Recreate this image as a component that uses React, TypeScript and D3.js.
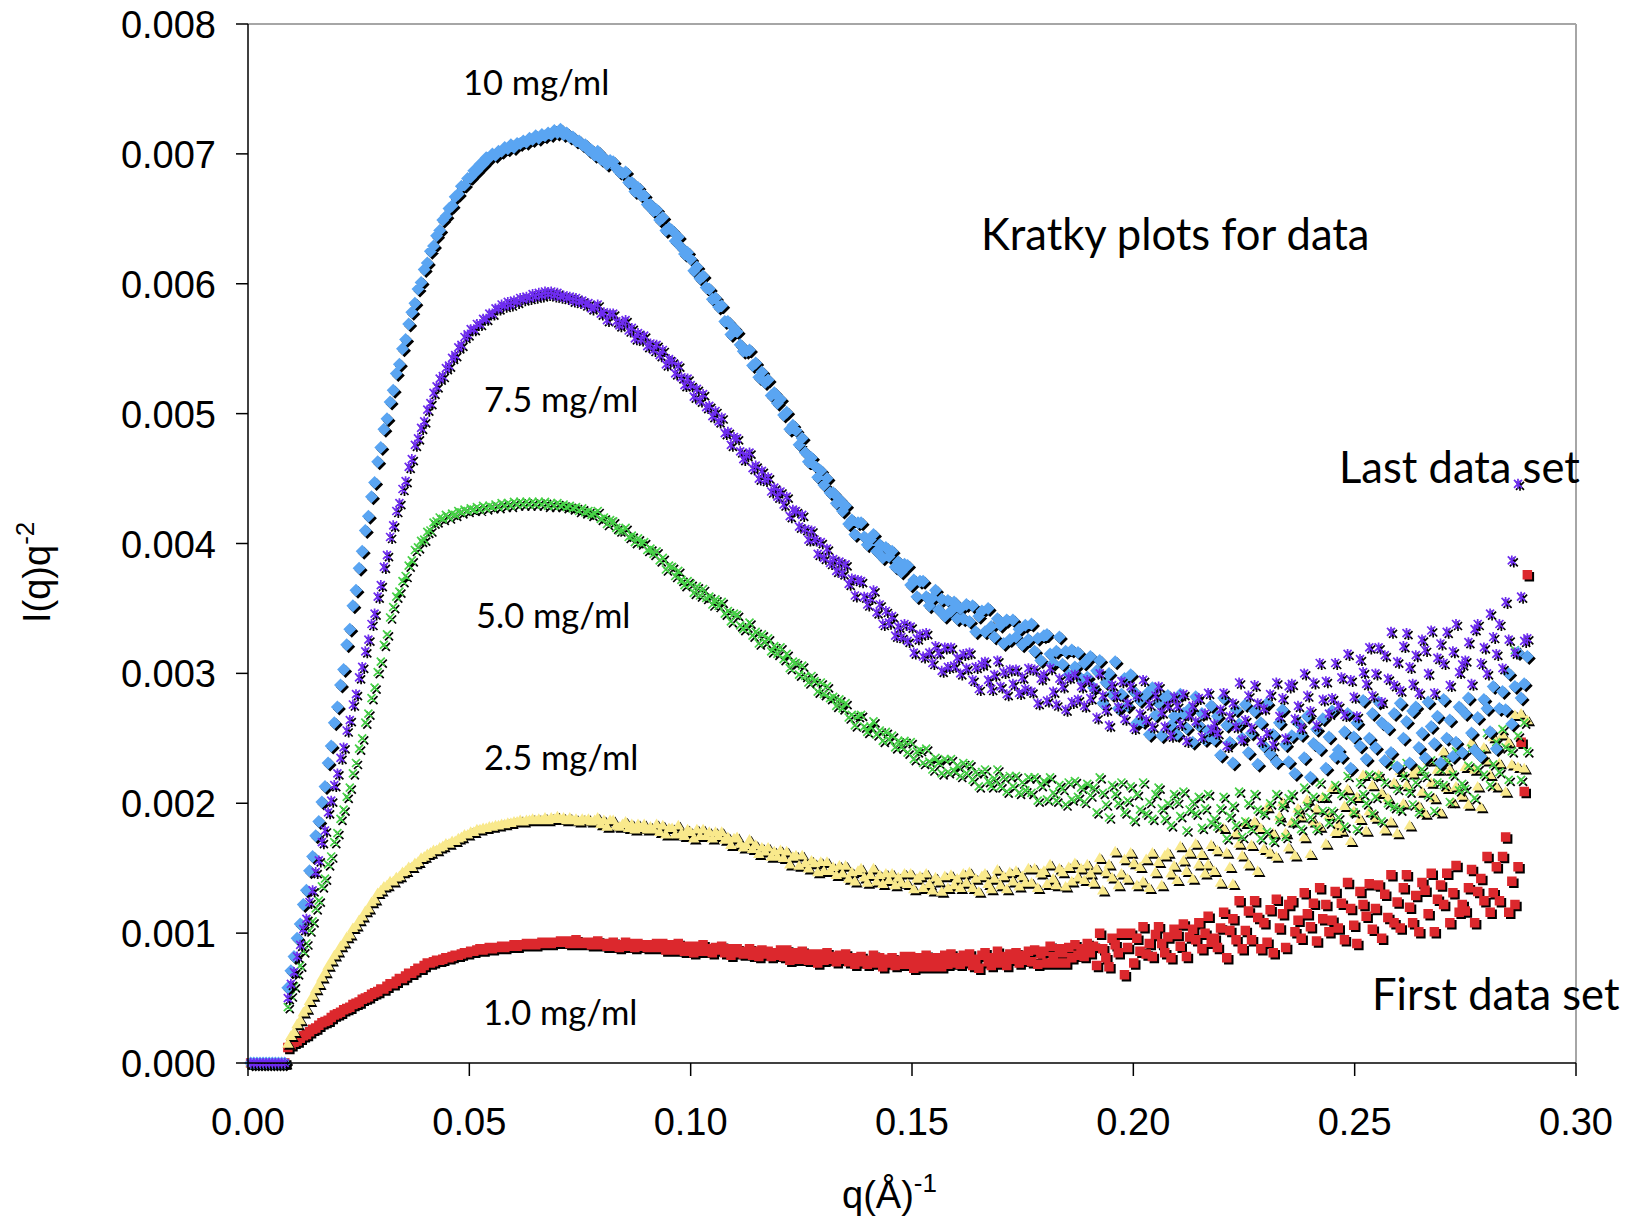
import React from 'react';
import * as d3 from 'd3';

// q values in units of 1e-4 Å^-1
const qGrid = [
  6, 13, 20, 27, 34, 41, 48, 55, 62, 69,
  76, 83, 90, 97, 104, 111, 118, 125, 132, 139,
  146, 153, 160, 167, 174, 181, 188, 195, 202, 209,
  216, 223, 230, 237, 244, 251, 258, 265, 272, 279,
  286, 293, 300, 307, 314, 321, 328, 335, 342, 349,
  356, 363, 370, 377, 384, 391, 398, 405, 412, 419,
  426, 433, 440, 447, 454, 461, 468, 475, 482, 489,
  496, 503, 510, 517, 524, 531, 538, 545, 552, 559,
  566, 573, 580, 587, 594, 601, 608, 615, 622, 629,
  636, 643, 650, 657, 664, 671, 678, 685, 692, 699,
  706, 713, 720, 727, 734, 741, 748, 755, 762, 769,
  776, 783, 790, 797, 804, 811, 818, 825, 832, 839,
  846, 853, 860, 867, 874, 881, 888, 895, 902, 909,
  916, 923, 930, 937, 944, 951, 958, 965, 972, 979,
  986, 993, 1000, 1007, 1014, 1021, 1028, 1035, 1042, 1049,
  1056, 1063, 1070, 1077, 1084, 1091, 1098, 1105, 1112, 1119,
  1126, 1133, 1140, 1147, 1154, 1161, 1168, 1175, 1182, 1189,
  1196, 1203, 1210, 1217, 1224, 1231, 1238, 1245, 1252, 1259,
  1266, 1273, 1280, 1287, 1294, 1301, 1308, 1315, 1322, 1329,
  1336, 1343, 1350, 1357, 1364, 1371, 1378, 1385, 1392, 1399,
  1406, 1413, 1420, 1427, 1434, 1441, 1448, 1455, 1462, 1469,
  1476, 1483, 1490, 1497, 1504, 1511, 1518, 1525, 1532, 1539,
  1546, 1553, 1560, 1567, 1574, 1581, 1588, 1595, 1602, 1609,
  1616, 1623, 1630, 1637, 1644, 1651, 1658, 1665, 1672, 1679,
  1686, 1693, 1700, 1707, 1714, 1721, 1728, 1735, 1742, 1749,
  1756, 1763, 1770, 1777, 1784, 1791, 1798, 1805, 1812, 1819,
  1826, 1833, 1840, 1847, 1854, 1861, 1868, 1875, 1882, 1889,
  1896, 1903, 1910, 1917, 1924, 1931, 1938, 1945, 1952, 1959,
  1966, 1973, 1980, 1987, 1994, 2001, 2008, 2015, 2022, 2029,
  2036, 2043, 2050, 2057, 2064, 2071, 2078, 2085, 2092, 2099,
  2106, 2113, 2120, 2127, 2134, 2141, 2148, 2155, 2162, 2169,
  2176, 2183, 2190, 2197, 2204, 2211, 2218, 2225, 2232, 2239,
  2246, 2253, 2260, 2267, 2274, 2281, 2288, 2295, 2302, 2309,
  2316, 2323, 2330, 2337, 2344, 2351, 2358, 2365, 2372, 2379,
  2386, 2393, 2400, 2407, 2414, 2421, 2428, 2435, 2442, 2449,
  2456, 2463, 2470, 2477, 2484, 2491, 2498, 2505, 2512, 2519,
  2526, 2533, 2540, 2547, 2554, 2561, 2568, 2575, 2582, 2589,
  2596, 2603, 2610, 2617, 2624, 2631, 2638, 2645, 2652, 2659,
  2666, 2673, 2680, 2687, 2694, 2701, 2708, 2715, 2722, 2729,
  2736, 2743, 2750, 2757, 2764, 2771, 2778, 2785, 2792, 2799,
  2806, 2813, 2820, 2827, 2834, 2841, 2848, 2855, 2862, 2869,
  2876, 2883, 2890,
];

// I(q)q^2 values in units of 1e-5
const conc10 = [
  0, 0, 0, 0, 0, 0, 0, 0, 0, 0, 0, 0,
  58, 71, 82, 96, 107, 122, 133, 148, 159, 175, 186, 201, 213, 231, 244, 262, 274, 291, 303, 322,
  334, 352, 364, 381, 394, 410, 421, 436, 447, 463, 474, 488, 496, 509, 518, 531, 538, 550, 557, 569,
  578, 585, 596, 601, 611, 616, 625, 629, 637, 641, 649, 652, 658, 660, 667, 669, 675, 676, 681, 682,
  687, 687, 692, 692, 697, 697, 700, 699, 702, 702, 705, 704, 707, 705, 708, 708, 710, 709, 712, 711,
  714, 712, 715, 714, 716, 715, 718, 716, 719, 715, 716, 713, 713, 710, 710, 707, 707, 703, 703, 699,
  702, 696, 697, 692, 695, 694, 689, 686, 685, 686, 678, 678, 671, 674, 668, 668, 661, 661, 656, 657,
  649, 651, 641, 643, 641, 633, 636, 628, 623, 624, 619, 610, 613, 604, 606, 597, 596, 588, 589, 582,
  583, 571, 571, 561, 566, 563, 553, 548, 548, 549, 537, 539, 528, 532, 524, 526, 514, 516, 508, 511,
  499, 501, 488, 491, 487, 476, 481, 470, 463, 466, 460, 451, 456, 445, 450, 439, 439, 431, 434, 425,
  429, 415, 418, 407, 416, 416, 405, 399, 403, 407, 394, 399, 389, 397, 390, 394, 382, 386, 378, 384,
  383, 368, 372, 359, 371, 371, 359, 352, 358, 364, 349, 357, 344, 356, 348, 355, 342, 350, 342, 353,
  340, 352, 332, 344, 348, 332, 350, 336, 328, 342, 337, 323, 341, 326, 341, 328, 334, 322, 337, 326,
  338, 317, 327, 310, 329, 330, 315, 308, 317, 328, 307, 317, 299, 318, 305, 316, 296, 308, 297, 313,
  289, 302, 310, 277, 293, 300, 284, 309, 273, 284, 296, 275, 299, 286, 262, 279, 263, 284, 253, 289,
  268, 277, 252, 282, 283, 260, 267, 253, 284, 269, 258, 273, 247, 282, 260, 269, 249, 256, 275, 249,
  267, 237, 281, 260, 247, 231, 272, 261, 250, 276, 239, 254, 271, 230, 262, 244, 277, 238, 253, 232,
  262, 272, 245, 232, 252, 223, 262, 253, 235, 267, 220, 246, 257, 242, 265, 227, 251, 271, 236, 241,
  236, 255, 269, 227, 251, 262, 244, 279, 234, 250, 269, 243, 278, 262, 233, 258, 239, 269, 228, 277,
  250, 263, 231, 271, 274, 243, 254, 235, 278, 259, 246, 267, 231, 280, 250, 264, 236, 247, 274, 239,
  269, 281, 254, 241, 266, 236, 280, 273, 255, 290, 242, 273, 286, 272, 300, 261, 290, 316, 281, 292, 313,
];

const conc75 = [
  0, 0, 0, 0, 0, 0, 0, 0, 0, 0, 0, 0,
  50, 61, 70, 82, 91, 103, 111, 124, 133, 147, 156, 170, 179, 193, 202, 214, 223, 235, 243, 256,
  264, 276, 284, 297, 305, 317, 326, 338, 346, 359, 368, 382, 391, 405, 414, 425, 431, 442, 448, 459,
  465, 476, 481, 489, 494, 503, 508, 516, 521, 527, 529, 535, 537, 543, 545, 551, 553, 559, 561, 565,
  565, 569, 569, 573, 573, 577, 577, 581, 581, 584, 583, 586, 584, 587, 586, 589, 588, 590, 589, 592,
  590, 593, 591, 594, 592, 594, 591, 593, 590, 591, 589, 590, 587, 589, 586, 587, 584, 585, 581, 582,
  584, 577, 578, 572, 577, 577, 571, 568, 570, 572, 564, 566, 558, 562, 557, 560, 552, 554, 549, 553,
  545, 549, 538, 542, 540, 531, 537, 528, 522, 527, 522, 513, 519, 510, 515, 505, 506, 498, 502, 494,
  497, 485, 486, 476, 482, 481, 471, 465, 468, 470, 458, 460, 450, 456, 449, 451, 440, 443, 436, 440,
  430, 436, 421, 426, 425, 413, 422, 411, 403, 410, 403, 392, 401, 389, 396, 385, 388, 379, 386, 377,
  384, 369, 373, 360, 372, 371, 359, 353, 358, 364, 347, 353, 338, 348, 339, 344, 329, 336, 328, 338,
  325, 336, 316, 327, 330, 313, 331, 316, 308, 321, 316, 302, 320, 305, 320, 306, 312, 300, 315, 304,
  316, 295, 305, 288, 307, 309, 295, 288, 299, 310, 290, 301, 284, 303, 292, 303, 285, 297, 288, 304,
  286, 303, 277, 296, 299, 279, 304, 286, 276, 296, 290, 272, 297, 278, 299, 280, 290, 275, 295, 281,
  289, 266, 300, 283, 272, 260, 291, 283, 274, 294, 265, 277, 290, 258, 283, 269, 295, 264, 276, 259,
  283, 290, 270, 259, 275, 252, 282, 275, 261, 284, 248, 268, 275, 263, 281, 251, 269, 285, 257, 261,
  254, 272, 285, 244, 267, 277, 259, 293, 249, 264, 283, 258, 291, 277, 248, 273, 254, 284, 245, 293,
  267, 281, 250, 290, 292, 265, 275, 258, 300, 283, 271, 293, 260, 308, 280, 294, 269, 281, 308, 275,
  297, 268, 315, 295, 282, 267, 311, 301, 292, 320, 283, 300, 320, 278, 314, 296, 332, 291, 309, 287,
  321, 331, 305, 292, 314, 285, 326, 318, 300, 333, 285, 312, 323, 308, 332, 291, 317, 338, 301, 307,
  310, 324, 292, 334, 338, 308, 320, 300, 346, 328, 315, 338, 304, 355, 326, 387, 316, 446, 359, 325, 327,
];

const conc50 = [
  0, 0, 0, 0, 0, 0, 0, 0, 0, 0, 0, 0,
  43, 52, 59, 69, 75, 86, 92, 102, 109, 119, 125, 136, 142, 153, 159, 170, 177, 188, 195, 205,
  212, 223, 231, 242, 250, 262, 269, 281, 289, 301, 309, 322, 330, 343, 351, 359, 363, 371, 375, 383,
  387, 395, 397, 402, 403, 409, 410, 416, 417, 420, 419, 422, 420, 423, 422, 425, 424, 426, 425, 427,
  426, 428, 426, 429, 427, 429, 428, 430, 428, 431, 429, 431, 429, 432, 430, 432, 430, 432, 430, 432,
  430, 432, 430, 432, 429, 431, 429, 431, 429, 430, 428, 429, 427, 428, 425, 427, 424, 425, 422, 423,
  425, 419, 420, 415, 418, 417, 412, 410, 410, 412, 405, 406, 401, 404, 400, 401, 395, 396, 392, 394,
  387, 389, 380, 383, 382, 375, 379, 372, 368, 371, 369, 362, 367, 360, 365, 358, 359, 353, 357, 352,
  355, 346, 348, 340, 346, 345, 337, 334, 336, 339, 329, 332, 323, 330, 324, 327, 317, 321, 315, 320,
  311, 315, 304, 309, 308, 299, 306, 298, 293, 298, 294, 286, 293, 284, 290, 281, 282, 275, 280, 273,
  277, 266, 268, 260, 267, 268, 259, 255, 259, 263, 253, 256, 248, 255, 249, 252, 243, 248, 243, 248,
  239, 247, 234, 240, 241, 231, 242, 232, 226, 235, 231, 223, 234, 224, 234, 225, 229, 221, 231, 223,
  230, 218, 224, 213, 224, 226, 217, 213, 219, 226, 213, 220, 209, 221, 213, 221, 208, 216, 210, 220,
  208, 220, 202, 214, 217, 203, 220, 208, 202, 214, 211, 199, 216, 203, 217, 205, 212, 201, 215, 206,
  212, 193, 220, 208, 199, 189, 214, 207, 200, 216, 193, 202, 213, 187, 207, 195, 216, 192, 201, 188,
  207, 212, 196, 188, 200, 183, 207, 201, 190, 209, 179, 195, 201, 192, 205, 181, 196, 207, 185, 188,
  182, 196, 205, 173, 190, 198, 183, 209, 174, 186, 200, 180, 207, 195, 173, 192, 178, 200, 171, 207,
  187, 198, 174, 204, 207, 185, 193, 180, 212, 198, 189, 205, 180, 216, 194, 205, 185, 194, 214, 189,
  207, 182, 221, 203, 193, 180, 216, 207, 200, 222, 192, 205, 221, 186, 216, 200, 230, 197, 211, 195,
  221, 231, 209, 199, 216, 193, 226, 221, 206, 233, 194, 216, 226, 214, 233, 201, 222, 240, 210, 215,
  211, 229, 242, 204, 227, 238, 222, 254, 214, 230, 247, 224, 257, 243, 218, 240, 318, 252, 218, 262, 240,
];

const conc25 = [
  0, 0, 0, 0, 0, 0, 0, 0, 0, 0, 0, 0,
  15, 21, 24, 30, 33, 39, 42, 48, 52, 57, 61, 66, 70, 75, 79, 83, 86, 90, 93, 97,
  99, 104, 106, 110, 113, 117, 119, 124, 126, 131, 133, 136, 137, 140, 140, 143, 144, 147, 148, 151,
  151, 154, 155, 158, 159, 161, 162, 164, 164, 166, 167, 169, 169, 171, 171, 173, 174, 176, 176, 178,
  178, 180, 180, 181, 181, 182, 182, 183, 183, 184, 184, 185, 185, 186, 186, 187, 186, 187, 187, 188,
  187, 188, 187, 189, 187, 189, 188, 190, 188, 189, 187, 189, 187, 188, 186, 188, 187, 188, 186, 187,
  189, 184, 187, 182, 187, 187, 183, 182, 184, 186, 181, 184, 180, 184, 181, 184, 180, 182, 180, 184,
  178, 183, 176, 181, 181, 176, 183, 177, 175, 180, 178, 173, 180, 175, 180, 175, 178, 173, 178, 175,
  178, 172, 174, 168, 173, 174, 169, 166, 168, 172, 165, 168, 161, 166, 163, 166, 159, 163, 159, 164,
  158, 163, 153, 159, 160, 152, 160, 154, 150, 156, 154, 147, 155, 148, 155, 148, 151, 145, 152, 146,
  152, 142, 147, 140, 148, 150, 143, 139, 145, 150, 140, 145, 138, 146, 141, 146, 137, 143, 139, 146,
  138, 146, 134, 142, 144, 135, 146, 138, 133, 143, 140, 132, 144, 135, 145, 137, 142, 135, 146, 139,
  147, 135, 142, 132, 144, 146, 138, 134, 142, 149, 137, 144, 134, 147, 140, 148, 136, 144, 139, 150,
  139, 150, 135, 146, 148, 138, 153, 142, 137, 150, 147, 136, 151, 140, 154, 143, 150, 141, 153, 146,
  139, 150, 158, 133, 147, 153, 143, 163, 137, 146, 157, 142, 162, 154, 137, 151, 140, 157, 135, 162,
  147, 155, 137, 160, 162, 146, 152, 141, 167, 156, 148, 162, 142, 169, 153, 161, 146, 153, 168, 148,
  164, 139, 181, 162, 151, 138, 177, 169, 160, 185, 153, 168, 186, 148, 181, 165, 197, 162, 177, 159,
  190, 201, 177, 166, 186, 160, 196, 190, 174, 203, 161, 186, 196, 182, 205, 169, 191, 212, 178, 184,
  179, 198, 211, 171, 194, 205, 188, 222, 179, 194, 214, 189, 222, 208, 180, 204, 186, 216, 177, 225,
  200, 214, 183, 223, 226, 198, 209, 192, 233, 216, 204, 226, 193, 240, 212, 226, 201, 213, 239, 206,
  228, 199, 247, 226, 213, 197, 243, 233, 222, 251, 213, 231, 253, 209, 247, 230, 268, 228, 269, 227, 264,
];

const conc1 = [
  0, 0, 0, 0, 0, 0, 0, 0, 0, 0, 0, 0,
  12, 14, 16, 17, 19, 21, 22, 24, 26, 27, 29, 31, 32, 33, 35, 37, 38, 39, 41, 42,
  43, 45, 46, 47, 49, 50, 51, 53, 54, 55, 57, 57, 59, 61, 61, 63, 65, 65, 67, 69,
  69, 71, 73, 73, 75, 77, 77, 78, 79, 79, 80, 81, 81, 82, 83, 83, 84, 85, 85, 86,
  86, 87, 88, 87, 88, 89, 88, 89, 89, 90, 89, 90, 90, 91, 90, 91, 91, 92, 91, 92,
  91, 92, 93, 92, 93, 92, 93, 93, 94, 93, 94, 92, 93, 95, 92, 93, 92, 93, 91, 93,
  94, 91, 92, 90, 92, 93, 90, 89, 91, 93, 90, 92, 89, 92, 90, 91, 89, 91, 89, 92,
  89, 92, 87, 90, 91, 87, 92, 88, 86, 90, 89, 85, 90, 86, 91, 86, 88, 85, 89, 87,
  90, 85, 88, 83, 88, 88, 85, 84, 86, 88, 83, 86, 82, 87, 84, 86, 82, 85, 83, 87,
  82, 87, 79, 84, 85, 80, 86, 81, 79, 84, 83, 77, 84, 79, 85, 80, 82, 78, 83, 80,
  84, 78, 81, 76, 81, 82, 78, 76, 79, 83, 77, 81, 74, 80, 77, 81, 75, 79, 76, 82,
  76, 82, 73, 80, 81, 74, 83, 77, 74, 81, 79, 74, 83, 76, 84, 77, 81, 76, 83, 78,
  84, 75, 80, 73, 83, 85, 78, 75, 81, 86, 77, 82, 75, 84, 80, 85, 77, 83, 79, 86,
  78, 87, 76, 84, 86, 77, 90, 82, 77, 88, 85, 77, 89, 81, 91, 83, 88, 82, 92, 85,
  90, 75, 100, 88, 81, 74, 96, 91, 85, 100, 68, 89, 100, 77, 96, 86, 105, 84, 92, 82,
  99, 105, 92, 85, 97, 81, 103, 99, 90, 107, 82, 97, 103, 95, 108, 88, 100, 113, 93, 96,
  89, 104, 116, 81, 102, 111, 95, 125, 88, 102, 117, 95, 125, 112, 88, 108, 93, 118, 85, 126,
  104, 115, 89, 122, 125, 101, 110, 96, 131, 115, 105, 123, 94, 135, 111, 122, 101, 110, 132, 104,
  123, 95, 139, 119, 106, 92, 132, 122, 113, 138, 103, 119, 137, 96, 130, 112, 145, 108, 124, 104,
  135, 145, 120, 108, 129, 101, 139, 133, 115, 146, 101, 126, 137, 122, 146, 108, 131, 152, 116, 122,
  117, 135, 149, 108, 132, 142, 125, 159, 116, 131, 151, 125, 159, 174, 116, 140, 122, 151, 247, 209, 376,
];

const xTicks = [0, 0.05, 0.1, 0.15, 0.2, 0.25, 0.3];
const xTickLabels = ['0.00', '0.05', '0.10', '0.15', '0.20', '0.25', '0.30'];
const yTicks = [0, 0.001, 0.002, 0.003, 0.004, 0.005, 0.006, 0.007, 0.008];
const yTickLabels = ['0.000', '0.001', '0.002', '0.003', '0.004', '0.005', '0.006', '0.007', '0.008'];

type Shape = 'square' | 'triangle' | 'x' | 'diamond' | 'star';

// draw order: first data set first, last data set on top
const series: { name: string; values: number[]; color: string; shape: Shape }[] = [
  { name: '1.0 mg/ml', values: conc1, color: '#dc282d', shape: 'square' },
  { name: '2.5 mg/ml', values: conc25, color: '#f9e98c', shape: 'triangle' },
  { name: '5.0 mg/ml', values: conc50, color: '#46d246', shape: 'x' },
  { name: '10 mg/ml', values: conc10, color: '#5aa5f2', shape: 'diamond' },
  { name: '7.5 mg/ml', values: conc75, color: '#6e2cf0', shape: 'star' },
];

const markerPath = (shape: Shape, cx: number, cy: number): string => {
  const f = (n: number) => n.toFixed(1);
  switch (shape) {
    case 'square':
      return `M${f(cx - 4.75)},${f(cy - 4.75)}h9.5v9.5h-9.5Z`;
    case 'triangle':
      return `M${f(cx)},${f(cy - 5.5)}L${f(cx + 5.8)},${f(cy + 4.2)}L${f(cx - 5.8)},${f(cy + 4.2)}Z`;
    case 'diamond':
      return `M${f(cx)},${f(cy - 6.5)}L${f(cx + 6.5)},${f(cy)}L${f(cx)},${f(cy + 6.5)}L${f(cx - 6.5)},${f(cy)}Z`;
    case 'x':
      return `M${f(cx - 4)},${f(cy - 4)}L${f(cx + 4)},${f(cy + 4)}M${f(cx - 4)},${f(cy + 4)}L${f(cx + 4)},${f(cy - 4)}`;
    case 'star':
    default:
      return `M${f(cx - 4)},${f(cy - 4)}L${f(cx + 4)},${f(cy + 4)}M${f(cx - 4)},${f(cy + 4)}L${f(cx + 4)},${f(cy - 4)}M${f(cx)},${f(cy - 5)}L${f(cx)},${f(cy + 5)}`;
  }
};

const labelFont = "Lato, 'Open Sans', sans-serif";
const axisFont = "'Liberation Sans', Arial, sans-serif";

export default function App() {
  const W = 1628;
  const H = 1230;
  const x = d3.scaleLinear().domain([0, 0.3]).range([248, 1576]);
  const y = d3.scaleLinear().domain([0, 0.008]).range([1063, 24]);

  const paths = series.map((s) => {
    const n = Math.min(qGrid.length, s.values.length);
    let d = '';
    for (let i = 0; i < n; i++) {
      d += markerPath(s.shape, x(qGrid[i] / 1e4), y(s.values[i] / 1e5));
    }
    return d;
  });

  const stroked = (sh: Shape) => sh === 'x' || sh === 'star';

  return (
    <svg
      width={W}
      height={H}
      viewBox={`0 0 ${W} ${H}`}
      style={{ position: 'absolute', left: 0, top: 0, background: '#fff' }}
    >
      <rect x={0} y={0} width={W} height={H} fill="#fff" />
      {/* plot frame */}
      <line x1={x(0)} x2={x(0.3)} y1={y(0.008)} y2={y(0.008)} stroke="#a6a6a6" strokeWidth={2} />
      <line x1={x(0.3)} x2={x(0.3)} y1={y(0.008)} y2={y(0)} stroke="#a6a6a6" strokeWidth={2} />

      {/* data */}
      {series.map((s, i) => (
        <g key={s.name}>
          {stroked(s.shape) ? (
            <>
              <path d={paths[i]} transform="translate(2,2)" fill="none" stroke="#000" strokeWidth={1.7} />
              <path d={paths[i]} fill="none" stroke={s.color} strokeWidth={1.7} />
            </>
          ) : (
            <>
              <path d={paths[i]} transform="translate(2,2)" fill="#000" />
              <path d={paths[i]} fill={s.color} />
            </>
          )}
        </g>
      ))}

      {/* axes */}
      <line x1={x(0)} x2={x(0)} y1={y(0.008)} y2={y(0)} stroke="#000" strokeWidth={1.5} />
      <line x1={x(0)} x2={x(0.3)} y1={y(0)} y2={y(0)} stroke="#000" strokeWidth={1.5} />
      {yTicks.map((t, i) => (
        <g key={'y' + i}>
          <line x1={x(0) - 12} x2={x(0)} y1={y(t)} y2={y(t)} stroke="#000" strokeWidth={1.5} />
          <text
            x={216}
            y={y(t) + 1}
            textAnchor="end"
            dominantBaseline="central"
            fontFamily={axisFont}
            fontSize={38}
            fill="#000"
          >
            {yTickLabels[i]}
          </text>
        </g>
      ))}
      {xTicks.map((t, i) => (
        <g key={'x' + i}>
          <line x1={x(t)} x2={x(t)} y1={y(0)} y2={y(0) + 13} stroke="#000" strokeWidth={1.5} />
          <text x={x(t)} y={1135} textAnchor="middle" fontFamily={axisFont} fontSize={38} fill="#000">
            {xTickLabels[i]}
          </text>
        </g>
      ))}

      {/* axis titles */}
      <text x={842} y={1208} fontFamily={axisFont} fontSize={38} fill="#000">
        q(Å)<tspan fontSize={26} dy={-16}>-1</tspan>
      </text>
      <text transform="translate(50,623) rotate(-90)" fontFamily={axisFont} fontSize={38} fill="#000">
        I(q)q<tspan fontSize={26} dy={-16}>-2</tspan>
      </text>

      {/* annotations */}
      <text x={463} y={95} fontFamily={labelFont} fontSize={34.5} fill="#000">10 mg/ml</text>
      <text x={484} y={412} fontFamily={labelFont} fontSize={34.5} fill="#000">7.5 mg/ml</text>
      <text x={476} y={628} fontFamily={labelFont} fontSize={34.5} fill="#000">5.0 mg/ml</text>
      <text x={484} y={770} fontFamily={labelFont} fontSize={34.5} fill="#000">2.5 mg/ml</text>
      <text x={483} y={1025} fontFamily={labelFont} fontSize={34.5} fill="#000">1.0 mg/ml</text>
      <text x={981} y={250} fontFamily={labelFont} fontSize={43.5} fill="#000">Kratky plots for data</text>
      <text x={1339} y={483} fontFamily={labelFont} fontSize={43.5} fill="#000">Last data set</text>
      <text x={1372} y={1010} fontFamily={labelFont} fontSize={43.5} fill="#000">First data set</text>
    </svg>
  );
}
